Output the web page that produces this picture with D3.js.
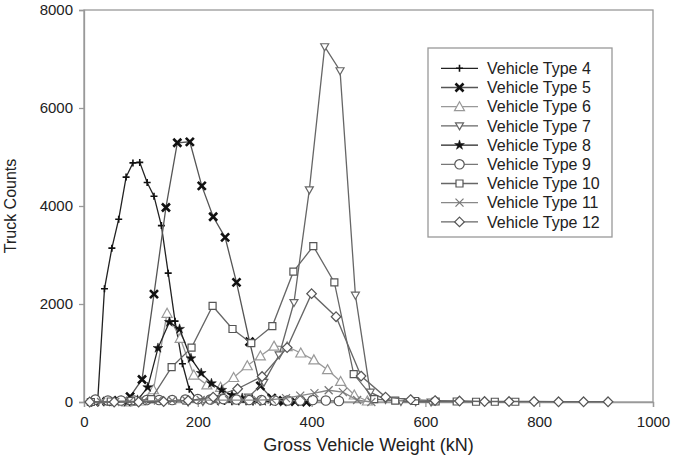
<!DOCTYPE html>
<html>
<head>
<meta charset="utf-8">
<script src="https://cdn.jsdelivr.net/npm/d3@7"></script>
<style>
  html, body { margin: 0; padding: 0; background: #fff; }
  svg { display: block; font-family: "Liberation Sans", Arial, sans-serif; }
</style>
</head>
<body>
<div id="chart"></div>
<script>
// Gross vehicle weight (kN) and truck counts per vehicle type
const t4Weight = [24, 36, 49, 61, 74, 86, 98, 111, 123, 136, 148, 160, 173, 185, 198, 210, 223, 235, 247, 260, 272, 285, 297, 310];
const t4Count = [10, 2310, 3140, 3730, 4590, 4880, 4890, 4480, 4200, 3600, 2630, 1650, 780, 260, 60, 30, 20, 10, 10, 5, 5, 5, 0, 0];

const t5Weight = [19, 40, 60, 81, 102, 123, 144, 164, 186, 207, 227, 248, 268, 291, 310, 330, 350, 371, 391];
const t5Count = [0, 10, 30, 110, 460, 2200, 3970, 5290, 5310, 4410, 3780, 3360, 2440, 1230, 330, 80, 30, 10, 0];

const t6Weight = [75, 99, 122, 146, 169, 193, 216, 240, 263, 287, 310, 334, 357, 381, 404, 428, 451, 475, 498];
const t6Count = [0, 20, 250, 1810, 1300, 550, 350, 300, 500, 740, 940, 1140, 1130, 1000, 860, 660, 420, 143, 20];

const t7Weight = [183, 209, 236, 262, 289, 316, 343, 369, 396, 423, 450, 477, 503, 530, 557, 583, 610];
const t7Count = [0, 10, 20, 40, 100, 400, 960, 2030, 4330, 7250, 6760, 2180, 200, 50, 10, 5, 0];

const t8Weight = [76, 94, 112, 130, 150, 168, 188, 206, 224, 242, 260, 278, 296, 314, 332, 350];
const t8Count = [0, 40, 300, 1100, 1630, 1490, 890, 590, 380, 245, 140, 80, 40, 20, 10, 0];

const t9Weight = [20, 42, 65, 88, 110, 132, 155, 178, 200, 222, 245, 268, 290, 312, 335, 358, 380, 402, 425, 448];
const t9Count = [50, 30, 30, 30, 40, 40, 40, 50, 60, 50, 60, 50, 40, 40, 30, 30, 30, 40, 30, 20];

const t10Weight = [12, 47, 83, 118, 154, 189, 226, 261, 294, 331, 368, 403, 440, 474, 510, 547, 582, 618, 655, 689, 722, 758];
const t10Count = [0, 10, 20, 60, 710, 1110, 1960, 1490, 1200, 1550, 2660, 3180, 2440, 570, 60, 30, 20, 10, 10, 5, 5, 5];

const t11Weight = [30, 55, 80, 105, 130, 155, 180, 205, 230, 255, 280, 305, 330, 355, 380, 405, 430, 455, 480, 505];
const t11Count = [0, 0, 10, 20, 30, 30, 30, 40, 40, 40, 40, 40, 50, 80, 130, 180, 240, 200, 40, 0];

const t12Weight = [10, 53, 96, 140, 183, 227, 270, 313, 357, 400, 443, 487, 530, 574, 617, 660, 704, 747, 791, 834, 878, 921];
const t12Count = [0, 0, 0, 10, 30, 100, 270, 520, 1110, 2210, 1740, 530, 100, 50, 30, 20, 10, 10, 10, 5, 5, 5];

const seriesNames = ['Vehicle Type 4', 'Vehicle Type 5', 'Vehicle Type 6', 'Vehicle Type 7', 'Vehicle Type 8',
    'Vehicle Type 9', 'Vehicle Type 10', 'Vehicle Type 11', 'Vehicle Type 12'];
const xTicks = [0, 200, 400, 600, 800, 1000];
const yTicks = [0, 2000, 4000, 6000, 8000];

const width = 673;
const height = 456;
const margin = { top: 10, right: 20, bottom: 54, left: 84 };

// marker shapes, drawn centred at 0,0
const shapes = {
    plus: { d: 'M-3.5,0H3.5M0,-3.5V3.5', fill: 'none', stroke: '#111', sw: 1.6 },
    boldX: { d: 'M-4,-4L4,4M4,-4L-4,4', fill: 'none', stroke: '#111', sw: 2.6 },
    triUp: { d: 'M0,-5L5,4L-5,4Z', fill: '#fff', stroke: '#999', sw: 1.2 },
    triDown: { d: 'M0,4L4,-3L-4,-3Z', fill: '#fff', stroke: '#666', sw: 1.2 },
    star: { d: d3.symbol(d3.symbolStar, 30)(), fill: '#111', stroke: '#111', sw: 0.5 },
    circle: { d: d3.symbol(d3.symbolCircle, 70)(), fill: '#fff', stroke: '#555', sw: 1.2 },
    square: { d: 'M-3.5,-3.5H3.5V3.5H-3.5Z', fill: '#fff', stroke: '#555', sw: 1.2 },
    thinX: { d: 'M-4,-4L4,4M4,-4L-4,4', fill: 'none', stroke: '#777', sw: 1.2 },
    diamond: { d: 'M0,-4.8L4.8,0L0,4.8L-4.8,0Z', fill: '#fff', stroke: '#555', sw: 1.2 },
};

const series = [
    { name: seriesNames[0], x: t4Weight, y: t4Count, line: '#222', shape: 'plus' },
    { name: seriesNames[1], x: t5Weight, y: t5Count, line: '#555', shape: 'boldX' },
    { name: seriesNames[2], x: t6Weight, y: t6Count, line: '#999', shape: 'triUp' },
    { name: seriesNames[3], x: t7Weight, y: t7Count, line: '#666', shape: 'triDown' },
    { name: seriesNames[4], x: t8Weight, y: t8Count, line: '#222', shape: 'star' },
    { name: seriesNames[5], x: t9Weight, y: t9Count, line: '#777', shape: 'circle' },
    { name: seriesNames[6], x: t10Weight, y: t10Count, line: '#666', shape: 'square' },
    { name: seriesNames[7], x: t11Weight, y: t11Count, line: '#888', shape: 'thinX' },
    { name: seriesNames[8], x: t12Weight, y: t12Count, line: '#666', shape: 'diamond' },
];

const svg = d3.select('#chart').append('svg')
    .attr('width', width)
    .attr('height', height);

const x = d3.scaleLinear().domain([0, 1000]).range([margin.left, width - margin.right]);
const y = d3.scaleLinear().domain([0, 8000]).range([height - margin.bottom, margin.top]);

// plot frame
svg.append('rect')
    .attr('x', x(0)).attr('y', y(8000))
    .attr('width', x(1000) - x(0)).attr('height', y(0) - y(8000))
    .attr('fill', 'none').attr('stroke', '#999').attr('stroke-width', 1.3);

const xAxis = svg.append('g')
    .attr('transform', `translate(0,${y(0)})`)
    .call(d3.axisBottom(x).tickValues(xTicks).tickSize(5).tickPadding(9).tickFormat(d3.format('d')));

const yAxis = svg.append('g')
    .attr('transform', `translate(${x(0)},0)`)
    .call(d3.axisLeft(y).tickValues(yTicks).tickSize(5).tickPadding(6).tickFormat(d3.format('d')));

[xAxis, yAxis].forEach(ax => {
    ax.select('.domain').attr('stroke', '#999').attr('stroke-width', 1.3);
    ax.selectAll('.tick line').attr('stroke', '#999').attr('stroke-width', 1.3);
    ax.selectAll('.tick text')
        .attr('fill', '#222')
        .style('font-size', '15px')
        .style('font-family', '"Liberation Sans", Arial, sans-serif');
});

// axis titles
svg.append('text')
    .attr('transform', `translate(16,${(y(0) + y(8000)) / 2}) rotate(-90)`)
    .attr('text-anchor', 'middle')
    .attr('fill', '#222')
    .style('font-size', '16px')
    .text('Truck Counts');

svg.append('text')
    .attr('x', (x(0) + x(1000)) / 2)
    .attr('y', 451)
    .attr('text-anchor', 'middle')
    .attr('fill', '#222')
    .style('font-size', '18px')
    .text('Gross Vehicle Weight (kN)');

// lines and markers
const line = d3.line().x(d => x(d[0])).y(d => y(d[1]));

series.forEach(s => {
    const pts = s.x.map((v, i) => [v, s.y[i]]);
    const g = svg.append('g');
    g.append('path')
        .datum(pts)
        .attr('d', line)
        .attr('fill', 'none')
        .attr('stroke', s.line)
        .attr('stroke-width', 1.3);

    const m = shapes[s.shape];
    g.selectAll('path.mk')
        .data(pts)
        .join('path')
        .attr('class', 'mk')
        .attr('transform', d => `translate(${x(d[0])},${y(d[1])})`)
        .attr('d', m.d)
        .attr('fill', m.fill)
        .attr('stroke', m.stroke)
        .attr('stroke-width', m.sw);
});

// legend
const lg = { x: 428, y: 48, w: 184, h: 189, row: 19.2, first: 68.3 };
const legend = svg.append('g');
legend.append('rect')
    .attr('x', lg.x).attr('y', lg.y)
    .attr('width', lg.w).attr('height', lg.h)
    .attr('fill', '#fff').attr('stroke', '#999').attr('stroke-width', 1.3);

series.forEach((s, i) => {
    const cy = lg.first + i * lg.row;
    const m = shapes[s.shape];
    legend.append('line')
        .attr('x1', 441).attr('x2', 478)
        .attr('y1', cy).attr('y2', cy)
        .attr('stroke', s.line).attr('stroke-width', 1.3);
    legend.append('path')
        .attr('transform', `translate(459.5,${cy})`)
        .attr('d', m.d)
        .attr('fill', m.fill)
        .attr('stroke', m.stroke)
        .attr('stroke-width', m.sw);
    legend.append('text')
        .attr('x', 487)
        .attr('y', cy)
        .attr('dy', '0.35em')
        .attr('fill', '#222')
        .style('font-size', '16px')
        .text(s.name);
});
</script>
</body>
</html>
